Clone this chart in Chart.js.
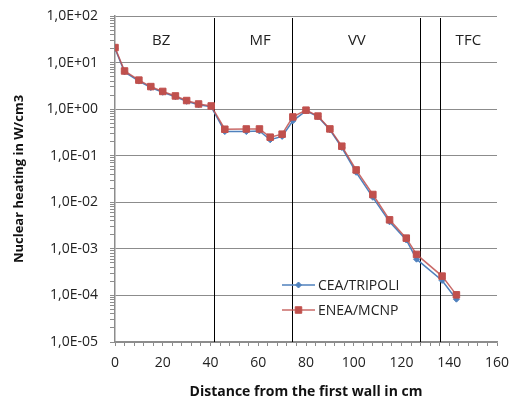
<!DOCTYPE html>
<html>
<head>
<meta charset="utf-8">
<script src="https://cdn.jsdelivr.net/npm/chart.js@4/dist/chart.umd.min.js"></script>
<style>
  body { margin: 0; background: #fff; }
</style>
</head>
<body>
<canvas id="myChart" width="510" height="400"></canvas>
<script>
// distance from the first wall (cm)
var distance = [0, 4, 10, 15, 20, 25.3, 30, 35, 40.3, 46, 55, 60.5, 65, 70, 74.5,
    80, 85, 90, 95, 101, 108, 115, 122, 126.3, 137, 143];
// nuclear heating (W/cm3)
var ceaTripoli = [20, 6.3, 4.0, 2.9, 2.3, 1.85, 1.47, 1.24, 1.12, 0.33, 0.33, 0.34, 0.22, 0.26, 0.56,
    0.92, 0.69, 0.36, 0.15, 0.044, 0.0128, 0.0038, 0.00155, 0.0006, 0.00021, 0.000083];
var eneaMcnp = [21, 6.6, 4.2, 3.05, 2.4, 1.92, 1.53, 1.29, 1.17, 0.37, 0.375, 0.375, 0.25, 0.29, 0.68,
    0.95, 0.71, 0.376, 0.16, 0.0495, 0.0147, 0.0042, 0.0017, 0.00076, 0.00026, 0.000103];

// zone boundaries and labels
var zoneBounds = [41.5, 74, 127.6, 136];
var zoneNames = ['BZ', 'MF', 'VV', 'TFC'];
var zoneLabelX = [19.3, 60.8, 101.3, 148];

var seriesNames = ['CEA/TRIPOLI', 'ENEA/MCNP'];

function toPoints(xs, ys) {
    var pts = [];
    for (var i = 0; i < xs.length; i++) {
        pts.push({x: xs[i], y: ys[i]});
    }
    return pts;
}

function isPow10(v) {
    var e = Math.log10(v);
    return Math.abs(e - Math.round(e)) < 1e-6;
}

function sciLabel(v) {
    var e = Math.round(Math.log10(v));
    var s = Math.abs(e) < 10 ? '0' + Math.abs(e) : '' + Math.abs(e);
    return '1,0E' + (e >= 0 ? '+' : '-') + s;
}

var zonesPlugin = {
    id: 'zones',
    beforeDatasetsDraw: function (chart) {
        var ctx = chart.ctx;
        var xs = chart.scales.x, ys = chart.scales.y;
        var area = chart.chartArea;
        ctx.save();
        ctx.strokeStyle = '#000';
        ctx.lineWidth = 1;
        for (var i = 0; i < zoneBounds.length; i++) {
            var px = Math.round(xs.getPixelForValue(zoneBounds[i])) + 0.5;
            ctx.beginPath();
            ctx.moveTo(px, area.top + 2);
            ctx.lineTo(px, area.bottom);
            ctx.stroke();
        }
        ctx.fillStyle = '#222';
        ctx.font = '15px "Open Sans"';
        ctx.textAlign = 'center';
        ctx.textBaseline = 'middle';
        for (var j = 0; j < zoneNames.length; j++) {
            ctx.fillText(zoneNames[j], xs.getPixelForValue(zoneLabelX[j]), ys.getPixelForValue(30));
        }
        ctx.restore();
    },
    afterDraw: function (chart) {
        // legend inside the plot
        var ctx = chart.ctx;
        ctx.save();
        for (var i = 0; i < chart.data.datasets.length; i++) {
            var ds = chart.data.datasets[i];
            var y = 285 + i * 25;
            ctx.strokeStyle = ds.borderColor;
            ctx.lineWidth = 1.5;
            ctx.beginPath();
            ctx.moveTo(282, y);
            ctx.lineTo(315, y);
            ctx.stroke();
            ctx.fillStyle = ds.pointBackgroundColor;
            ctx.strokeStyle = ds.pointBorderColor;
            ctx.lineWidth = 1;
            Chart.helpers.drawPoint(ctx, {
                pointStyle: ds.pointStyle,
                radius: ds.pointRadius,
                borderWidth: 1
            }, 298.5, y);
            ctx.fillStyle = '#222';
            ctx.font = '14px "Open Sans"';
            ctx.textAlign = 'left';
            ctx.textBaseline = 'middle';
            ctx.fillText(seriesNames[i], 318, y + 1);
        }
        ctx.restore();
    }
};

var ctx = document.getElementById('myChart').getContext('2d');
var myChart = new Chart(ctx, {
    type: 'line',
    data: {
        datasets: [
            {
                label: seriesNames[0],
                data: toPoints(distance, ceaTripoli),
                borderColor: '#4F81BD',
                borderWidth: 1.5,
                pointStyle: 'rectRot',
                pointRadius: 3,
                pointBackgroundColor: '#4F81BD',
                pointBorderColor: '#4F81BD',
                pointBorderWidth: 1,
                order: 2
            },
            {
                label: seriesNames[1],
                data: toPoints(distance, eneaMcnp),
                borderColor: 'rgba(192,80,77,0.85)',
                borderWidth: 1.5,
                pointStyle: 'rect',
                pointRadius: 4.6,
                pointBackgroundColor: '#C0504D',
                pointBorderColor: '#C0504D',
                pointBorderWidth: 1,
                order: 1
            }
        ]
    },
    options: {
        responsive: false,
        animation: false,
        layout: { padding: { top: 16, right: 13, left: 0, bottom: 0 } },
        plugins: {
            legend: { display: false },
            tooltip: { enabled: false }
        },
        scales: {
            x: {
                type: 'linear',
                min: 0,
                max: 160,
                afterFit: function (scale) {
                    scale.height = 58;
                    scale.paddingRight = 0;
                    scale.paddingLeft = 0;
                },
                ticks: {
                    stepSize: 4,
                    autoSkip: false,
                    maxRotation: 0,
                    padding: 9,
                    color: '#222',
                    font: { family: 'Open Sans', size: 14 },
                    callback: function (v) { return v % 20 === 0 ? '' + v : ''; }
                },
                grid: {
                    drawOnChartArea: false,
                    tickLength: 4,
                    color: '#8c8c8c'
                },
                border: { color: '#8c8c8c', width: 1.5 },
                title: {
                    display: true,
                    text: 'Distance from the first wall in cm',
                    color: '#111',
                    font: { family: 'Open Sans', size: 14, weight: 'bold' },
                    padding: { top: 0, bottom: 0 }
                }
            },
            y: {
                type: 'logarithmic',
                min: 1e-5,
                max: 100,
                afterFit: function (scale) {
                    scale.width = 115;
                    scale.paddingTop = 0;
                    scale.paddingBottom = 0;
                },
                afterBuildTicks: function (scale) {
                    var t = [];
                    for (var e = -5; e < 2; e++) {
                        for (var m = 1; m < 10; m++) {
                            t.push({ value: Number((m * Math.pow(10, e)).toPrecision(6)) });
                        }
                    }
                    t.push({ value: 100 });
                    scale.ticks = t;
                },
                ticks: {
                    autoSkip: false,
                    padding: 12,
                    color: '#222',
                    font: { family: 'Open Sans', size: 14 },
                    callback: function (v) { return isPow10(v) ? sciLabel(v) : ''; }
                },
                grid: {
                    tickLength: 5,
                    color: function (c) {
                        return (c.tick && isPow10(c.tick.value)) ? '#8c8c8c' : 'rgba(0,0,0,0)';
                    },
                    tickColor: '#8c8c8c'
                },
                border: { color: '#8c8c8c', width: 1.5 },
                title: {
                    display: true,
                    text: 'Nuclear heating in W/cm3',
                    color: '#111',
                    font: { family: 'Open Sans', size: 13, weight: 'bold' },
                    padding: { top: 11, bottom: 0 }
                }
            }
        }
    },
    plugins: [zonesPlugin]
});
</script>
</body>
</html>
